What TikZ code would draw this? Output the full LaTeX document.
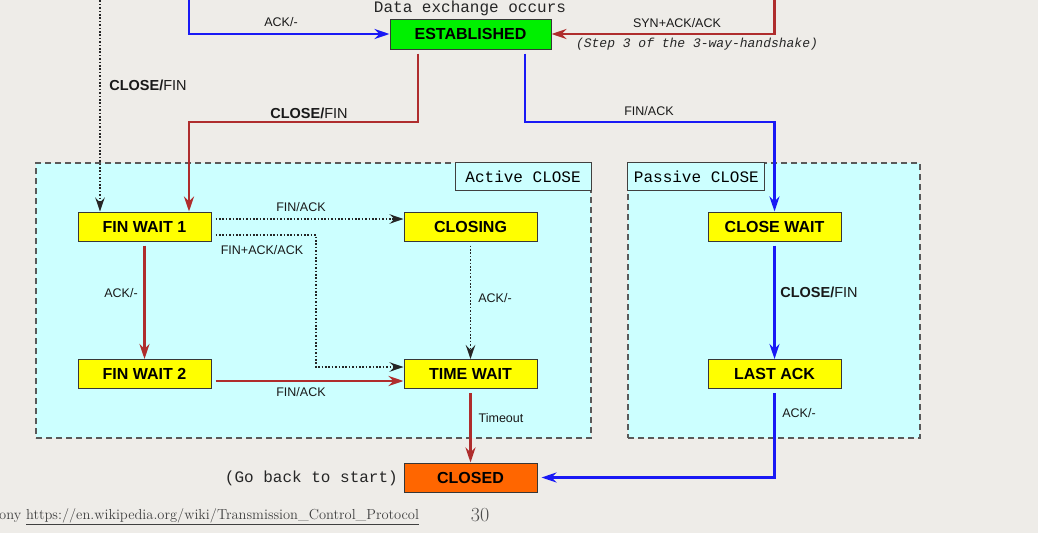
\documentclass[tikz,border=0pt]{standalone}
\usepackage{fontspec}
\newfontfamily\arialf{Liberation Sans}
\newfontfamily\monof{Liberation Mono}
\usetikzlibrary{arrows.meta}
\definecolor{bg}{RGB}{238,236,232}
\definecolor{myblue}{RGB}{25,25,245}
\definecolor{myred}{RGB}{175,45,45}
\definecolor{cy}{RGB}{204,255,255}
\definecolor{grn}{RGB}{0,240,0}
\definecolor{yel}{RGB}{255,255,0}
\definecolor{org}{RGB}{255,102,0}
\definecolor{bord}{RGB}{55,55,55}
\tikzset{
  state/.style={draw=bord, line width=1pt, minimum width=133pt, minimum height=29pt, inner sep=0pt,
    font=\arialf\bfseries\fontsize{16}{18}\selectfont, fill=yel},
  lbl/.style={font=\arialf\fontsize{12.5}{14}\selectfont, text=black!90, inner sep=0pt},
  cl/.style={font=\arialf\fontsize{14.5}{16}\selectfont, text=black!90, inner sep=0pt},
  monot/.style={font=\monof\fontsize{16}{18}\selectfont, text=black!85, inner sep=0pt},
  cluster/.style={draw=black!65, dash pattern=on 6pt off 4pt, line width=1.2pt, fill=cy, inner sep=0pt},
  ctitle/.style={draw=black!75, line width=1pt, fill=cy, minimum height=28pt, inner sep=0pt,
    font=\monof\fontsize{16}{18}\selectfont},
  bluearr/.style={draw=myblue, line width=2.4pt, -{Stealth[length=15pt,width=10pt,inset=5pt]}},
  redarr/.style={draw=myred, line width=2.4pt, -{Stealth[length=15pt,width=10pt,inset=5pt]}},
  dotarr/.style={draw=black!85, line width=1.6pt, dash pattern=on 1.6pt off 1.8pt,
    -{Stealth[length=14pt,width=9.5pt,inset=5pt]}},
}
\begin{document}
\begin{tikzpicture}[x=1pt,y=-1pt]
\fill[bg] (0,0) rectangle (1038,533);
\useasboundingbox (0,0) rectangle (1038,533);

% clusters
\node[cluster, minimum width=555pt, minimum height=275pt] (active) at (313.5,300.5) {};
\node[cluster, minimum width=292pt, minimum height=275pt] (passive) at (774,300.5) {};
\node[ctitle, minimum width=136pt, anchor=north east] (acttitle) at (active.north east) {Active CLOSE};
\node[ctitle, minimum width=137pt, anchor=north west] (pastitle) at (passive.north west) {Passive CLOSE};

% states
\node[state, fill=grn, minimum width=161pt, minimum height=30pt] (est) at (470.5,34) {ESTABLISHED};
\node[state] (fw1) at (144.5,226.5) {FIN WAIT 1};
\node[state] (closing) at (470.5,226.5) {CLOSING};
\node[state] (fw2) at (144.5,374) {FIN WAIT 2};
\node[state] (tw) at (470.5,374) {TIME WAIT};
\node[state] (cw) at (774.5,226.5) {CLOSE WAIT};
\node[state] (la) at (774.5,374) {LAST ACK};
\node[state, fill=org] (closed) at (470.5,477.5) {CLOSED};

% texts
\node[monot] (dex) at (470,8) {Data exchange occurs};
\node[font=\monof\itshape\fontsize{13}{15}\selectfont, text=black!85, inner sep=0pt] (step3) at (697,44) {(Step 3 of the 3-way-handshake)};
\node[monot, anchor=east] (goback) at (398,478) {(Go back to start)};

% helper coordinates
\coordinate (b0) at (189,-3);
\coordinate (r0) at (774.5,-3);
\coordinate (d0) at (100,-3);
\coordinate (r1) at (189,122);
\coordinate (b1) at (774.5,122);
\coordinate (k) at (316,367);

% connectors
\draw[bluearr] (b0) |- (est.west);
\draw[redarr] (r0) |- (est.east);
\draw[dotarr] (d0) -- (d0 |- fw1.north);
\draw[redarr] ([xshift=-52.5pt,yshift=-4pt]est.south) |- (r1) -- (r1 |- fw1.north);
\draw[bluearr] ([xshift=54.5pt,yshift=-4pt]est.south) |- (b1) -- (cw.north);
\draw[dotarr] ([xshift=4pt,yshift=7.5pt]fw1.east) -- ([yshift=7.5pt]closing.west);
\draw[dotarr] ([xshift=4pt,yshift=-8.5pt]fw1.east) -| (k) -- (k -| tw.west);
\draw[redarr] ([yshift=-4pt]fw1.south) -- (fw2.north);
\draw[dotarr] ([yshift=-4pt]closing.south) -- (tw.north);
\draw[redarr] ([xshift=4pt,yshift=-7pt]fw2.east) -- ([yshift=-7pt]tw.west);
\draw[redarr] ([yshift=-4pt]tw.south) -- (closed.north);
\draw[bluearr] ([yshift=-4pt]cw.south) -- (la.north);
\draw[bluearr] ([yshift=-4pt]la.south) |- ([xshift=4pt]closed.east);

% labels
\node[lbl] (l1) at (281,22) {ACK/-};
\node[lbl] (l2) at (677,23) {SYN+ACK/ACK};
\node[cl] (l3) at (148,85) {{\bfseries CLOSE/}FIN};
\node[cl] (l4) at (309,113) {{\bfseries CLOSE/}FIN};
\node[lbl] (l5) at (649,111) {FIN/ACK};
\node[lbl] (l6) at (301,207) {FIN/ACK};
\node[lbl] (l7) at (262,250) {FIN+ACK/ACK};
\node[lbl] (l8) at (121,293) {ACK/-};
\node[lbl] (l9) at (495,298) {ACK/-};
\node[lbl] (l10) at (301,392) {FIN/ACK};
\node[lbl] (l11) at (501,418) {Timeout};
\node[cl] (l12) at (819,292) {{\bfseries CLOSE/}FIN};
\node[lbl] (l13) at (799,413) {ACK/-};

% footer
\node[anchor=base west, font=\fontsize{14.5}{17}\selectfont, text=black!75, inner sep=0pt] (foot) at (-1,519)
  {ony \underline{https://en.wikipedia.org/wiki/Transmission\_Control\_Protocol}};
\node[anchor=base, font=\fontsize{20}{22}\selectfont, text=black!70, inner sep=0pt] (pg) at (480,521) {30};
\end{tikzpicture}
\end{document}
